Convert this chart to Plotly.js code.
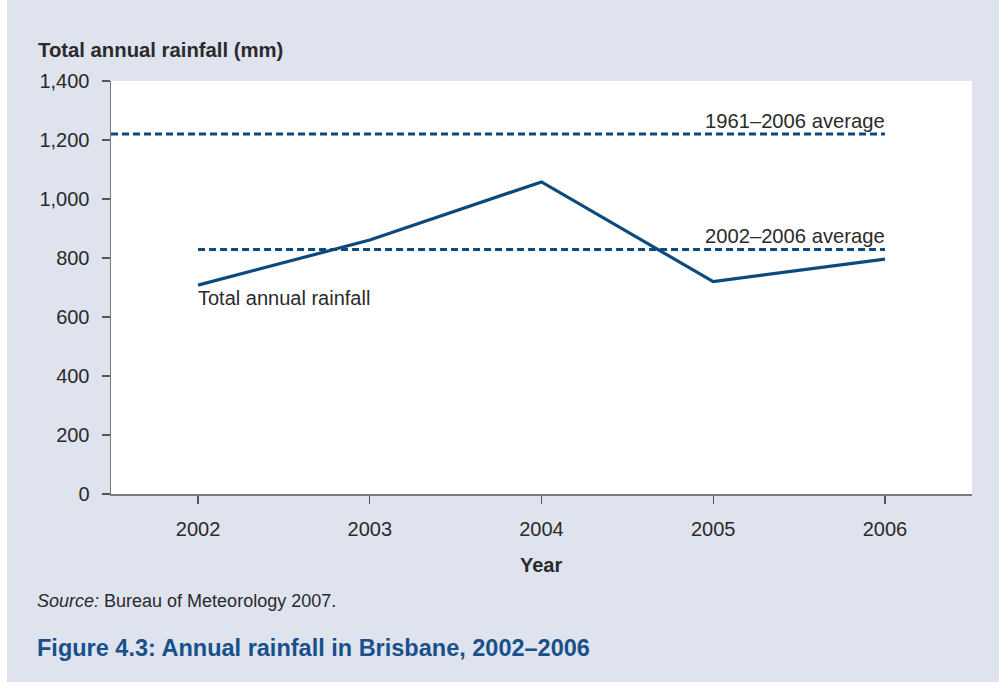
<!DOCTYPE html>
<html>
<head>
<meta charset="utf-8">
<script src="https://cdn.plot.ly/plotly-3.0.1.min.js"></script>
<style>
html,body{margin:0;padding:0;background:#ffffff;}
#chart{position:absolute;left:7px;top:0;width:992px;height:682px;}
</style>
</head>
<body>
<div id="chart"></div>
<script>
// Data
const years = [2002, 2003, 2004, 2005, 2006];
const rainfall = [708, 861, 1058, 720, 796];
const avg1961to2006 = 1220;
const avg2002to2006 = 829;
const yTickVals = [0, 200, 400, 600, 800, 1000, 1200, 1400];
const yTickText = ['0', '200', '400', '600', '800', '1,000', '1,200', '1,400'];
const xTickText = ['2002', '2003', '2004', '2005', '2006'];

const xRange = [2001.493, 2006.507];
const yRange = [0, 1400];

const lineBlue = '#0b4a7e';
const textCol = '#2a2a2a';
const fontFam = '"Liberation Sans", Arial, Helvetica, sans-serif';

const traces = [
  {
    x: [xRange[0], years[years.length - 1]],
    y: [avg1961to2006, avg1961to2006],
    mode: 'lines',
    line: {color: lineBlue, width: 3, dash: '7px,4px'},
    hoverinfo: 'skip', showlegend: false
  },
  {
    x: [years[0], years[years.length - 1]],
    y: [avg2002to2006, avg2002to2006],
    mode: 'lines',
    line: {color: lineBlue, width: 3, dash: '7px,4px'},
    hoverinfo: 'skip', showlegend: false
  },
  {
    x: years,
    y: rainfall,
    mode: 'lines',
    line: {color: lineBlue, width: 3.2},
    showlegend: false
  }
];

const layout = {
  width: 992, height: 682,
  margin: {l: 104, r: 27, t: 81, b: 188, pad: 0},
  paper_bgcolor: '#dfe3ee',
  plot_bgcolor: '#ffffff',
  font: {family: fontFam, size: 20, color: textCol},
  showlegend: false,
  xaxis: {
    range: xRange,
    tickvals: years,
    ticktext: xTickText,
    showgrid: false, zeroline: false,
    showline: true, linecolor: '#7a7a7a', linewidth: 1.5,
    ticks: 'outside', ticklen: 8, tickwidth: 1.2, tickcolor: '#555',
    ticklabelstandoff: 8,
    tickfont: {family: fontFam, size: 20, color: textCol},
    fixedrange: true
  },
  yaxis: {
    range: yRange,
    tickvals: yTickVals,
    ticktext: yTickText,
    showgrid: false, zeroline: false,
    showline: true, linecolor: '#7a7a7a', linewidth: 1.5,
    ticks: 'outside', ticklen: 8, tickwidth: 1.2, tickcolor: '#555',
    ticklabelstandoff: 8,
    tickfont: {family: fontFam, size: 20, color: textCol},
    fixedrange: true
  },
  annotations: [
    {text: '<b>Total annual rainfall (mm)</b>', xref: 'paper', yref: 'paper',
     x: -0.0848, y: 1.075, xanchor: 'left', yanchor: 'middle', xshift: -2, showarrow: false,
     font: {family: fontFam, size: 20.3, color: textCol}},
    {text: '1961–2006 average', xref: 'x', yref: 'y',
     x: years[years.length - 1], y: avg1961to2006, xanchor: 'right', yanchor: 'bottom',
     xshift: 2, showarrow: false, font: {family: fontFam, size: 20.2, color: textCol}},
    {text: '2002–2006 average', xref: 'x', yref: 'y',
     x: years[years.length - 1], y: avg2002to2006, xanchor: 'right', yanchor: 'bottom',
     xshift: 2, showarrow: false, font: {family: fontFam, size: 20.2, color: textCol}},
    {text: 'Total annual rainfall', xref: 'x', yref: 'y',
     x: years[0], y: rainfall[0], xanchor: 'left', yanchor: 'top',
     xshift: -2, showarrow: false, font: {family: fontFam, size: 20, color: textCol}},
    {text: '<b>Year</b>', xref: 'paper', yref: 'paper',
     x: 0.5, y: -0.172, xanchor: 'center', yanchor: 'middle', xshift: -1, showarrow: false,
     font: {family: fontFam, size: 20, color: textCol}},
    {text: '<i>Source:</i> Bureau of Meteorology 2007.', xref: 'paper', yref: 'paper',
     x: -0.086, y: -0.259, xanchor: 'left', yanchor: 'middle', xshift: -2, showarrow: false,
     font: {family: fontFam, size: 18, color: textCol}},
    {text: '<b>Figure 4.3: Annual rainfall in Brisbane, 2002–2006</b>', xref: 'paper', yref: 'paper',
     x: -0.086, y: -0.373, xanchor: 'left', yanchor: 'middle', xshift: -2, showarrow: false,
     font: {family: fontFam, size: 23.5, color: '#17508a'}}
  ]
};

Plotly.newPlot('chart', traces, layout, {displayModeBar: false, staticPlot: true});
</script>
</body>
</html>
